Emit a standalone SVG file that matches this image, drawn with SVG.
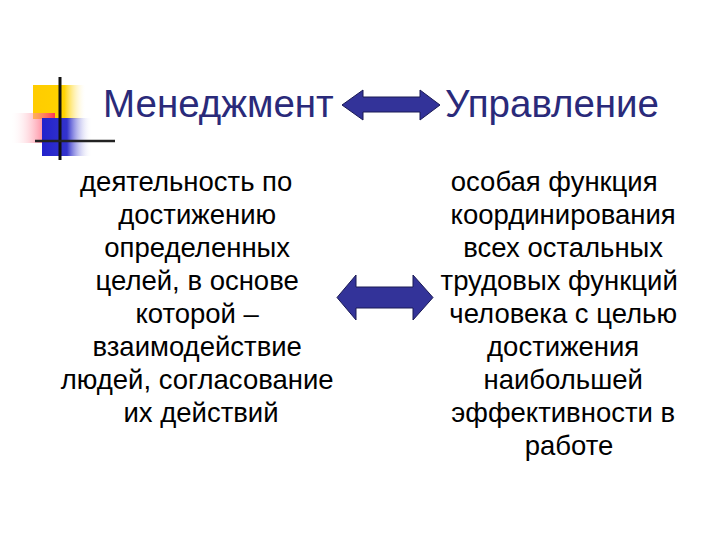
<svg xmlns="http://www.w3.org/2000/svg" width="720" height="540" viewBox="0 0 720 540">
<defs>
<linearGradient id="gy" x1="0" x2="1" y1="0" y2="0"><stop offset="0" stop-color="#FFCC00"/><stop offset="0.6" stop-color="#FFD200"/><stop offset="1" stop-color="#FFF6D0" stop-opacity="0"/></linearGradient>
<linearGradient id="gr" x1="0" x2="1" y1="0" y2="0"><stop offset="0" stop-color="#FFFFFF" stop-opacity="0"/><stop offset="1" stop-color="#FF3355"/></linearGradient>
<linearGradient id="gb" x1="0" x2="1" y1="0" y2="0"><stop offset="0" stop-color="#2222CC"/><stop offset="0.5" stop-color="#3333CC"/><stop offset="1" stop-color="#FFFFFF" stop-opacity="0"/></linearGradient>
<style>
.title{font-family:"Liberation Sans",Arial,sans-serif;font-size:38.5px;fill:#2A2A7A}
.body{font-family:"Liberation Sans",Arial,sans-serif;font-size:27.5px;fill:#000;text-anchor:middle}
.arrow{fill:#333399;stroke:#1a1a55;stroke-width:1}
</style>
</defs>
<g id="logo">
<rect x="33" y="85" width="52" height="34" fill="url(#gy)"/>
<rect x="10" y="113" width="45" height="30" fill="url(#gr)"/>
<rect x="42" y="118" width="50" height="38" fill="url(#gb)"/>
<line x1="60" y1="77" x2="60" y2="160" stroke="#111" stroke-width="3"/>
<line x1="35" y1="141" x2="115" y2="141" stroke="#222" stroke-width="2.5"/>
</g>
<g id="node-menedzhment"><text class="title" x="103" y="117">Менеджмент</text></g>
<g id="node-upravlenie"><text class="title" x="445" y="117">Управление</text></g>
<g id="node-left-def">
<text class="body">
<tspan x="190" y="191">деятельность по</tspan>
<tspan x="201" y="224">достижению</tspan>
<tspan x="201" y="257">определенных</tspan>
<tspan x="201" y="290">целей, в основе</tspan>
<tspan x="201" y="323">которой –</tspan>
<tspan x="201" y="356">взаимодействие</tspan>
<tspan x="201" y="389">людей, согласование</tspan>
<tspan x="201" y="422">их действий</tspan>
</text>
</g>
<g id="node-right-def">
<text class="body">
<tspan x="558" y="191">особая функция</tspan>
<tspan x="567" y="224">координирования</tspan>
<tspan x="567" y="257">всех остальных</tspan>
<tspan x="563" y="290">трудовых функций</tspan>
<tspan x="567" y="323">человека с целью</tspan>
<tspan x="567" y="356">достижения</tspan>
<tspan x="567" y="389">наибольшей</tspan>
<tspan x="567" y="422">эффективности в</tspan>
<tspan x="569" y="455">работе</tspan>
</text>
</g>
<g id="connectors">
<polygon class="arrow" points="342,105 363,90 363,97 420,97 420,90 440,105 420,120 420,112 363,112 363,120"/>
<polygon class="arrow" points="337,297.5 356,275 356,287 413,287 413,275 433,297.5 413,320 413,308 356,308 356,320"/>
</g>
</svg>
